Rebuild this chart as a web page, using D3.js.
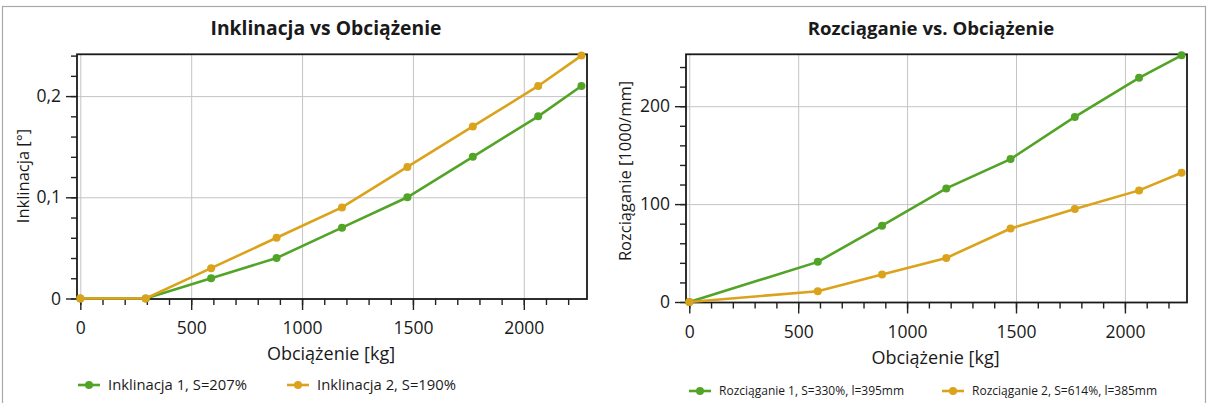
<!DOCTYPE html>
<html>
<head>
<meta charset="utf-8">
<script src="https://cdn.jsdelivr.net/npm/d3@7"></script>
<style>
  html, body { margin: 0; padding: 0; background: #fff; }
  svg { display: block; }
  text { font-family: "Open Sans", "Noto Sans", sans-serif; fill: #1a1a1a; }
</style>
</head>
<body>
<svg id="chart" width="1209" height="403"></svg>
<script>
// Load steps [kg]
const loadInkl = [0, 295, 590, 885, 1180, 1475, 1770, 2065, 2260];
const loadRozc = [0, 590, 885, 1180, 1475, 1770, 2065, 2260];

// Inclination [°]
const inkl1 = [0, 0, 0.02, 0.04, 0.07, 0.10, 0.14, 0.18, 0.21];
const inkl2 = [0, 0, 0.03, 0.06, 0.09, 0.13, 0.17, 0.21, 0.24];

// Stretch [1000/mm]
const rozc1 = [0, 41, 78, 116, 146, 189, 229, 252];
const rozc2 = [0, 11, 28, 45, 75, 95, 114, 132];

// Tick values
const xTicks = [0, 500, 1000, 1500, 2000];
const inklTicks = [0, 0.1, 0.2];
const rozcTicks = [0, 100, 200];

// Series names
const inklNames = ["Inklinacja 1, S=207%", "Inklinacja 2, S=190%"];
const rozcNames = ["Rozciąganie 1, S=330%, l=395mm", "Rozciąganie 2, S=614%, l=385mm"];

const GREEN = "#52a427";
const ORANGE = "#dba21c";

const svg = d3.select("#chart");

// outer group frame
svg.append("rect")
  .attr("x", 2.5).attr("y", 6.5)
  .attr("width", 1203).attr("height", 402)
  .attr("fill", "none").attr("stroke", "#a9a9a9").attr("stroke-width", 1.2);

function drawPanel(cfg) {
  const x = d3.scaleLinear().domain([-15, 2285]).range([cfg.left, cfg.right]);
  const y = d3.scaleLinear().domain(cfg.yDomain).range([cfg.bottom, cfg.top]);
  const w = cfg.right - cfg.left, h = cfg.bottom - cfg.top;
  const g = svg.append("g");

  // grid
  g.append("g").attr("transform", `translate(0,${cfg.bottom})`)
    .call(d3.axisBottom(x).tickValues(xTicks).tickSize(-h).tickFormat(""))
    .call(a => { a.select(".domain").remove(); a.selectAll("line").attr("stroke", "#c4c4c4"); });
  g.append("g").attr("transform", `translate(${cfg.left},0)`)
    .call(d3.axisLeft(y).tickValues(cfg.yTicks).tickSize(-w).tickFormat(""))
    .call(a => { a.select(".domain").remove(); a.selectAll("line").attr("stroke", "#c4c4c4"); });

  // minor ticks
  const xMinor = d3.range(0, 2201, 100);
  g.append("g").attr("transform", `translate(0,${cfg.bottom})`)
    .call(d3.axisBottom(x).tickValues(xMinor).tickSize(6).tickFormat(""))
    .call(a => { a.select(".domain").remove(); a.selectAll("line").attr("stroke", "#222").attr("stroke-width", 1.4); });
  g.append("g").attr("transform", `translate(${cfg.left},0)`)
    .call(d3.axisLeft(y).tickValues(cfg.yMinor).tickSize(6).tickFormat(""))
    .call(a => { a.select(".domain").remove(); a.selectAll("line").attr("stroke", "#222").attr("stroke-width", 1.4); });

  // major ticks + labels
  g.append("g").attr("transform", `translate(0,${cfg.bottom})`)
    .call(d3.axisBottom(x).tickValues(xTicks).tickSize(11).tickPadding(12).tickFormat(d3.format("d")))
    .call(a => {
      a.select(".domain").remove();
      a.selectAll("line").attr("stroke", "#222").attr("stroke-width", 1.4);
      a.selectAll("text").attr("font-size", 17.5).attr("fill", "#1a1a1a").attr("font-family", null);
    });
  g.append("g").attr("transform", `translate(${cfg.left},0)`)
    .call(d3.axisLeft(y).tickValues(cfg.yTicks).tickSize(11).tickPadding(5).tickFormat(cfg.yFormat))
    .call(a => {
      a.select(".domain").remove();
      a.selectAll("line").attr("stroke", "#222").attr("stroke-width", 1.4);
      a.selectAll("text").attr("font-size", 17.5).attr("fill", "#1a1a1a").attr("font-family", null);
    });

  // plot frame
  g.append("rect")
    .attr("x", cfg.left).attr("y", cfg.top).attr("width", w).attr("height", h)
    .attr("fill", "none").attr("stroke", "#1a1a1a").attr("stroke-width", 1.8);

  // series
  const line = d3.line().x(d => x(d[0])).y(d => y(d[1]));
  cfg.series.forEach(s => {
    const pts = cfg.load.map((l, i) => [l, s.values[i]]);
    g.append("path").datum(pts)
      .attr("d", line).attr("fill", "none")
      .attr("stroke", s.color).attr("stroke-width", 2.6);
    g.selectAll(null).data(pts).enter().append("circle")
      .attr("cx", d => x(d[0])).attr("cy", d => y(d[1])).attr("r", 4)
      .attr("fill", s.color);
  });

  // title
  g.append("text").attr("x", cfg.titleX).attr("y", 35)
    .attr("text-anchor", "middle").attr("font-size", cfg.titleSize).attr("font-weight", "bold")
    .text(cfg.title);

  // axis titles
  g.append("text").attr("x", (cfg.left + cfg.right) / 2 - 1).attr("y", cfg.bottom + 61)
    .attr("text-anchor", "middle").attr("font-size", 18)
    .text("Obciążenie [kg]");
  g.append("text")
    .attr("transform", `translate(${cfg.yLabelX},${cfg.yLabelY}) rotate(-90)`)
    .attr("text-anchor", "middle").attr("font-size", 16.5)
    .text(cfg.yLabel);

  // legend
  cfg.series.forEach((s, i) => {
    const lx = cfg.legendX[i];
    const ly = cfg.legendY;
    g.append("line").attr("x1", lx).attr("x2", lx + 22).attr("y1", ly).attr("y2", ly)
      .attr("stroke", s.color).attr("stroke-width", 2.6);
    g.append("circle").attr("cx", lx + 11).attr("cy", ly).attr("r", 4).attr("fill", s.color);
    g.append("text").attr("x", lx + 30).attr("y", ly).attr("dy", "0.35em")
      .attr("font-size", cfg.legendSize).text(s.name);
  });
}

drawPanel({
  left: 77, right: 587, top: 54.3, bottom: 299,
  yDomain: [-0.0005, 0.2413],
  yTicks: inklTicks,
  yMinor: d3.range(0, 0.2401, 0.02),
  yFormat: d => d === 0 ? "0" : d3.format(".1f")(d).replace(".", ","),
  load: loadInkl,
  series: [
    { name: inklNames[0], values: inkl1, color: GREEN },
    { name: inklNames[1], values: inkl2, color: ORANGE }
  ],
  title: "Inklinacja vs Obciążenie",
  titleX: 326,
  titleSize: 19.3,
  yLabel: "Inklinacja [°]",
  yLabelX: 29, yLabelY: 176,
  legendX: [78, 287],
  legendY: 385,
  legendSize: 14.8
});

drawPanel({
  left: 686, right: 1187, top: 54.3, bottom: 302.5,
  yDomain: [-0.5, 253],
  yTicks: rozcTicks,
  yMinor: d3.range(0, 241, 20),
  yFormat: d3.format("d"),
  load: loadRozc,
  series: [
    { name: rozcNames[0], values: rozc1, color: GREEN },
    { name: rozcNames[1], values: rozc2, color: ORANGE }
  ],
  title: "Rozciąganie vs. Obciążenie",
  titleX: 931,
  titleSize: 18.6,
  yLabel: "Rozciąganie [1000/mm]",
  yLabelX: 631, yLabelY: 171,
  legendX: [689, 942],
  legendY: 391,
  legendSize: 12
});
</script>
</body>
</html>
